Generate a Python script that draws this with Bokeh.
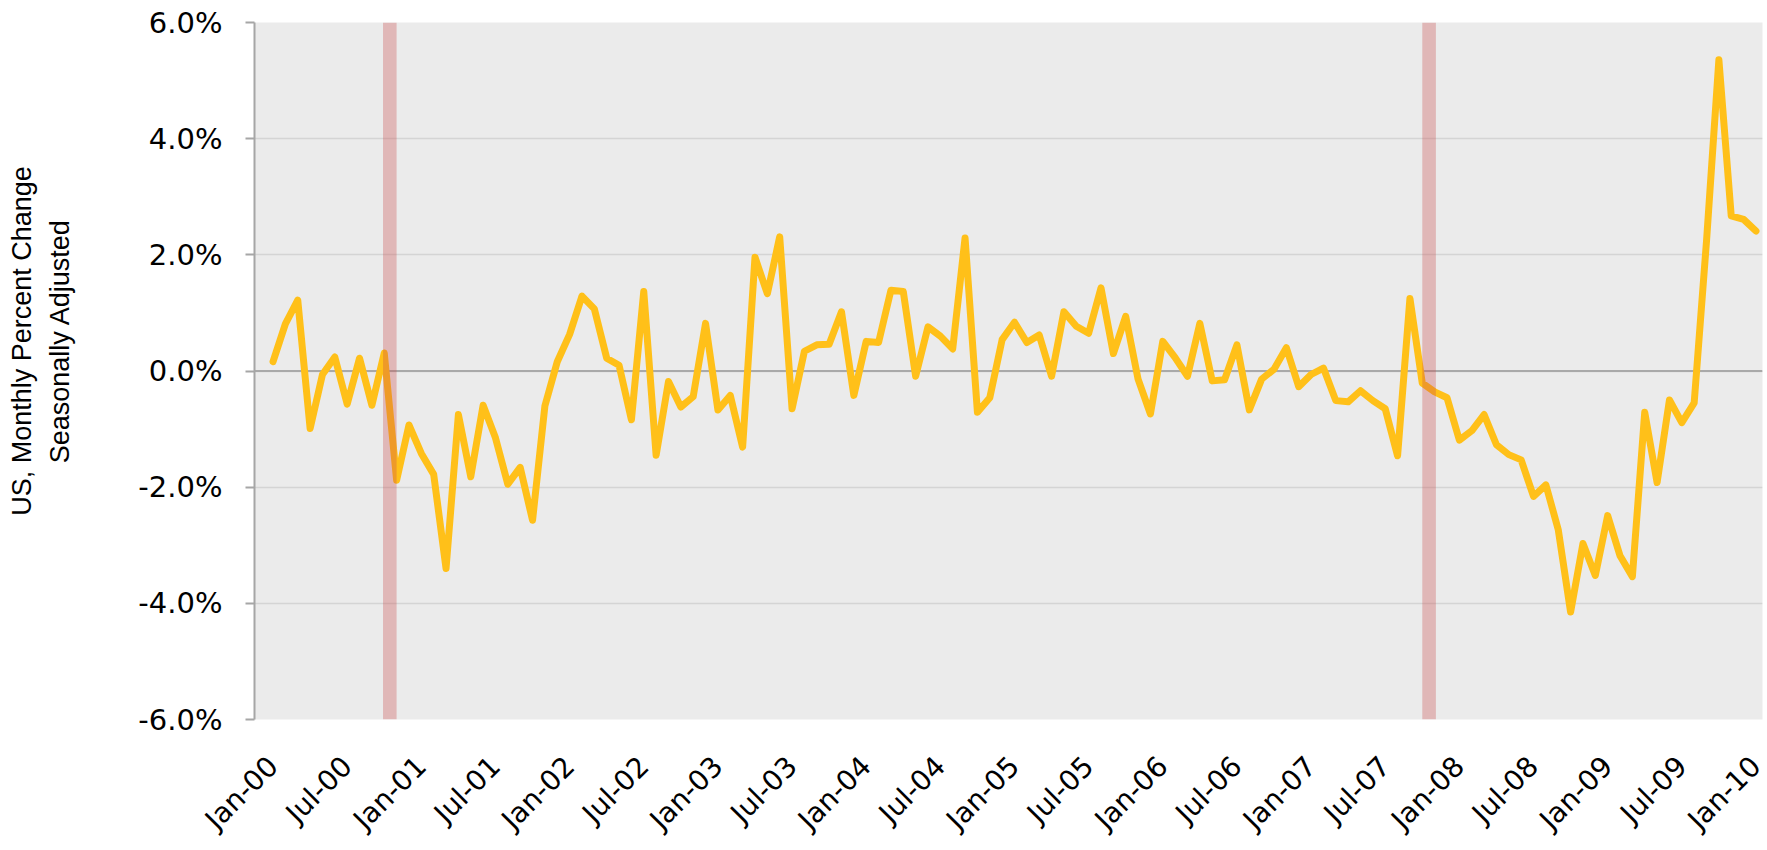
import math
from bokeh.plotting import figure
from bokeh.models import FixedTicker, PrintfTickFormatter, Span, Range1d
from bokeh.embed import file_html
from bokeh.resources import INLINE

# Monthly percent change (Jan-00 .. Jan-10), seasonally adjusted, in %
pct_change = [
    0.16, 0.81, 1.22, -0.99, -0.06, 0.24, -0.57, 0.22, -0.59, 0.31, -1.88, -0.93,
    -1.42, -1.78, -3.40, -0.75, -1.82, -0.59, -1.15, -1.95, -1.66, -2.57, -0.60, 0.16,
    0.63, 1.29, 1.07, 0.22, 0.10, -0.84, 1.37, -1.45, -0.18, -0.62, -0.44, 0.82,
    -0.67, -0.42, -1.31, 1.96, 1.33, 2.31, -0.65, 0.34, 0.45, 0.46, 1.02, -0.42,
    0.51, 0.49, 1.39, 1.37, -0.09, 0.76, 0.60, 0.38, 2.29, -0.71, -0.46, 0.54,
    0.84, 0.49, 0.62, -0.09, 1.02, 0.77, 0.65, 1.43, 0.30, 0.94, -0.14, -0.74,
    0.51, 0.23, -0.09, 0.82, -0.17, -0.15, 0.45, -0.67, -0.14, 0.03, 0.40, -0.27,
    -0.06, 0.05, -0.51, -0.53, -0.34, -0.51, -0.65, -1.46, 1.25, -0.21, -0.36, -0.46,
    -1.19, -1.03, -0.75, -1.27, -1.44, -1.53, -2.16, -1.96, -2.73, -4.15, -2.97, -3.52,
    -2.49, -3.18, -3.54, -0.71, -1.92, -0.50, -0.89, -0.55, 2.24, 5.36, 2.67, 2.61,
    2.41,
]

tick_labels = [
    "Jan-00", "Jul-00", "Jan-01", "Jul-01", "Jan-02", "Jul-02", "Jan-03", "Jul-03",
    "Jan-04", "Jul-04", "Jan-05", "Jul-05", "Jan-06", "Jul-06", "Jan-07", "Jul-07",
    "Jan-08", "Jul-08", "Jan-09", "Jul-09", "Jan-10",
]
months_per_label = 6

# shaded recession markers (in month index units)
recession_start = [8.9, 93.0]
recession_end = [10.0, 94.1]

y_ticks = [-6, -4, -2, 0, 2, 4, 6]
y_title_lines = ["US, Monthly Percent Change", "Seasonally Adjusted"]

month_index = list(range(len(pct_change)))
tick_pos = [months_per_label * i for i in range(len(tick_labels))]

p = figure(
    width=1767, height=850, output_backend="svg", toolbar_location=None,
    x_range=Range1d(-1.5, 120.53), y_range=Range1d(y_ticks[0], y_ticks[-1]),
    min_border_left=254, min_border_right=5, min_border_top=22, min_border_bottom=128,
)
p.background_fill_color = "#EBEBEB"
p.border_fill_color = "white"
p.outline_line_color = None

p.xgrid.visible = False
p.ygrid.ticker = FixedTicker(ticks=y_ticks)
p.ygrid.grid_line_color = "#D4D4D4"
p.ygrid.grid_line_width = 1.5

p.add_layout(Span(location=0, dimension="width", line_color="#A9A9A9",
                  line_width=2, level="underlay"))

p.line(month_index, pct_change, line_color="#FFC019", line_width=7,
       line_join="round", line_cap="round")

p.quad(left=recession_start, right=recession_end,
       bottom=y_ticks[0], top=y_ticks[-1],
       fill_color="#C94C4C", fill_alpha=0.32, line_color=None)

yaxis = p.yaxis[0]
yaxis.ticker = FixedTicker(ticks=y_ticks)
yaxis.formatter = PrintfTickFormatter(format="%.1f%%")
yaxis.axis_line_color = "#A6A6A6"
yaxis.axis_line_width = 2
yaxis.major_tick_line_color = "#A6A6A6"
yaxis.major_tick_line_width = 2
yaxis.major_tick_out = 9
yaxis.major_tick_in = 0
yaxis.minor_tick_line_color = None
yaxis.major_label_standoff = 23
yaxis.major_label_text_font = "DejaVu Sans"
yaxis.major_label_text_font_size = "29px"
yaxis.major_label_text_color = "#000000"
# leading no-break spaces nudge the (centred) title slightly above the frame centre
pad = "\u00a0" * 8
yaxis.axis_label = "\n".join(pad + line for line in y_title_lines)
yaxis.axis_label_standoff = 60
yaxis.axis_label_text_font = "Liberation Sans"
yaxis.axis_label_text_font_size = "27px"
yaxis.axis_label_text_font_style = "normal"
yaxis.axis_label_text_color = "#000000"
yaxis.axis_label_text_line_height = 1.275

xaxis = p.xaxis[0]
xaxis.ticker = FixedTicker(ticks=tick_pos)
xaxis.major_label_overrides = {t: l for t, l in zip(tick_pos, tick_labels)}
xaxis.major_label_orientation = math.pi / 4
xaxis.axis_line_color = None
xaxis.major_tick_line_color = None
xaxis.minor_tick_line_color = None
xaxis.major_tick_out = 0
xaxis.major_tick_in = 0
xaxis.major_label_standoff = 42
xaxis.major_label_text_font = "DejaVu Sans"
xaxis.major_label_text_font_size = "28px"
xaxis.major_label_text_color = "#000000"

open("out.html", "w").write(file_html(p, INLINE))
